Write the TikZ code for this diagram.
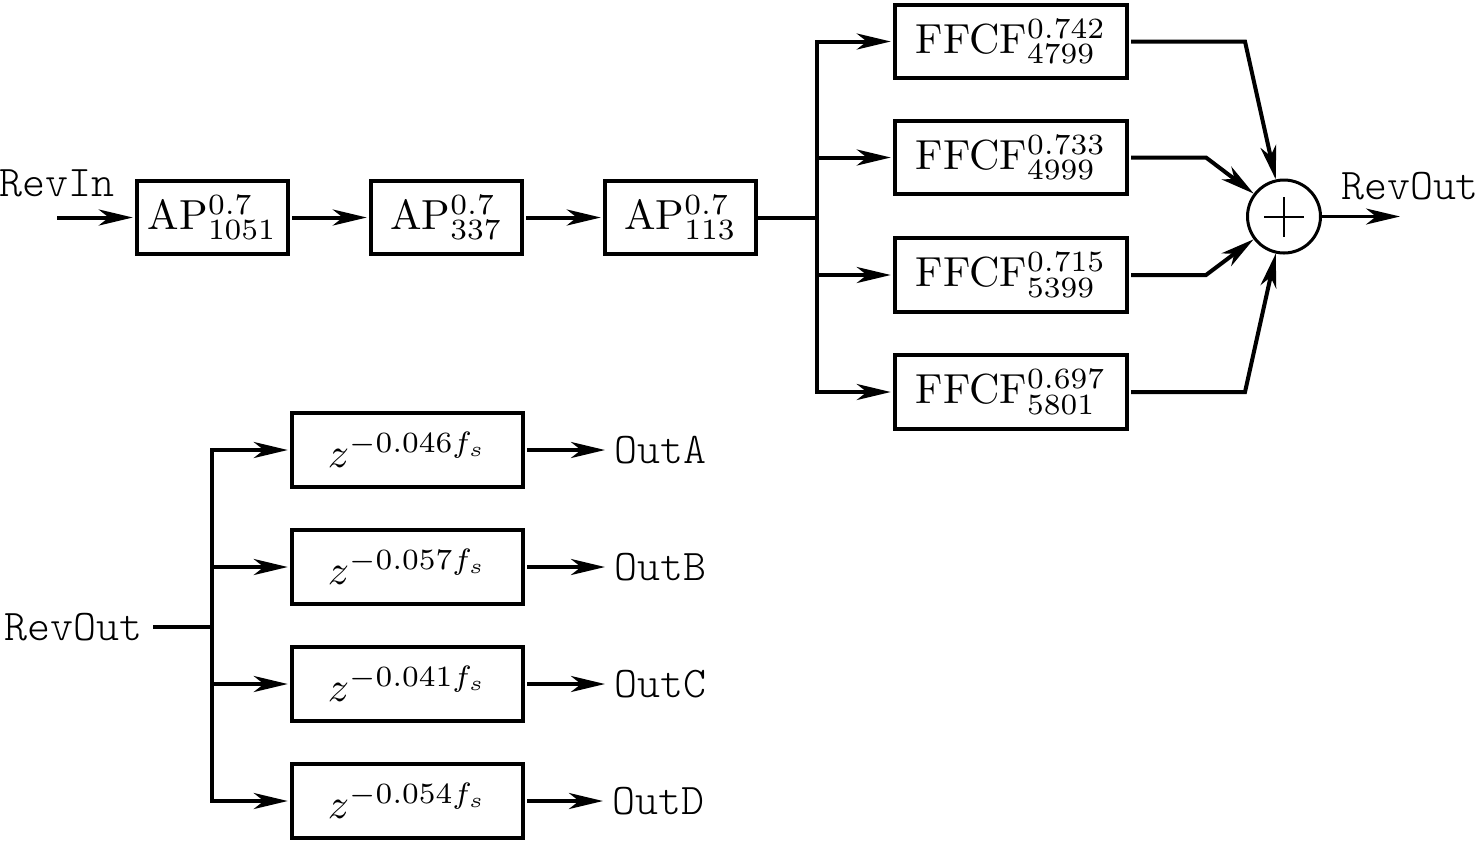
\documentclass[tikz,border=0pt]{standalone}
\usepackage{fontspec}
\newfontfamily\monof{lmmonolt10-regular}[Extension=.otf]
\usetikzlibrary{arrows.meta}
\begin{document}
\begin{tikzpicture}[x=0.5pt,y=-0.5pt,
  blk/.style={draw,line width=2pt,scale=2.1,inner sep=0pt,font=\normalsize,minimum height=17.4pt},
  apbox/.style={blk,minimum width=35.95pt},
  ffbox/.style={blk,minimum width=55.24pt},
  zbox/.style={blk,minimum width=55pt,minimum height=17.62pt},
  lbl/.style={font=\fontsize{21.9}{26}\selectfont\monof,inner sep=0pt},
  wire/.style={line width=2pt,line cap=rect},
  arr/.style={line width=2pt,-{Stealth[length=17pt,width=8pt,inset=5pt]}},
  thinarr/.style={line width=1.5pt,-{Stealth[length=17pt,width=8pt,inset=5pt]}},
  sumnode/.style={draw,circle,line width=1.5pt,minimum size=36.5pt,inner sep=0pt}
]
\useasboundingbox (0,0) rectangle (1480,843);

% top row
\node[apbox] (a1) at (212.5,217.5) {AP$^{0.7}_{1051}$};
\node[apbox] (a2) at (446.5,217.5) {AP$^{0.7}_{337}$};
\node[apbox] (a3) at (680.5,217.5) {AP$^{0.7}_{113}$};
\coordinate (in) at (57,217.5);
\node[lbl] (rin) at (57,183) {RevIn};
\draw[arr] (in) -- (a1);
\draw[arr] (a1) -- (a2);
\draw[arr] (a2) -- (a3);

\node[ffbox] (f1) at (1011,41.5) {FFCF$^{0.742}_{4799}$};
\node[ffbox] (f2) at (1011,157.5) {FFCF$^{0.733}_{4999}$};
\node[ffbox] (f3) at (1011,275) {FFCF$^{0.715}_{5399}$};
\node[ffbox] (f4) at (1011,392) {FFCF$^{0.697}_{5801}$};

\coordinate (bj) at (817,217.5);
\coordinate (bt) at (817,41.5);
\coordinate (bb) at (817,392);
\draw[wire] (a3) -- (bj);
\draw[wire] (bt) -- (bb);
\draw[arr] (bt) -- (f1);
\draw[arr] (bt |- f2) -- (f2);
\draw[arr] (bt |- f3) -- (f3);
\draw[arr] (bb) -- (f4);

\node[sumnode] (sum) at (1284,216.5) {};
\draw[line width=1pt] ([xshift=-10pt]sum.center) -- ([xshift=10pt]sum.center);
\draw[line width=1pt] ([yshift=-10pt]sum.center) -- ([yshift=10pt]sum.center);

\coordinate (k1) at (1245,41.5);
\coordinate (k2) at (1206,157.5);
\coordinate (k3) at (1206,275);
\coordinate (k4) at (1245,392);
\draw[arr] (f1.east) -- (k1) -- (sum);
\draw[arr] (f2.east) -- (k2) -- (sum);
\draw[arr] (f3.east) -- (k3) -- (sum);
\draw[arr] (f4.east) -- (k4) -- (sum);

\coordinate (out) at (1400,216.5);
\draw[thinarr] (sum) -- (out);
\node[lbl] (rout) at (1410,186) {RevOut};

% bottom
\node[zbox] (zA) at (407.5,450) {$z^{-0.046f_s}$};
\node[zbox] (zB) at (407.5,567) {$z^{-0.057f_s}$};
\node[zbox] (zC) at (407.5,684) {$z^{-0.041f_s}$};
\node[zbox] (zD) at (407.5,801) {$z^{-0.054f_s}$};

\node[lbl,anchor=east,inner sep=6pt] (ro2) at (155,627) {RevOut};
\coordinate (cj) at (212,627);
\coordinate (ct) at (212,450);
\coordinate (cb) at (212,801);
\draw[wire] (ro2.east) -- (cj);
\draw[wire] (ct) -- (cb);
\draw[arr] (ct) -- (zA);
\draw[arr] (ct |- zB) -- (zB);
\draw[arr] (ct |- zC) -- (zC);
\draw[arr] (cb) -- (zD);

\node[lbl,anchor=west,inner sep=4.5pt] (oA) at (605,450) {OutA};
\node[lbl,anchor=west,inner sep=4.5pt] (oB) at (605,567) {OutB};
\node[lbl,anchor=west,inner sep=4.5pt] (oC) at (605,684) {OutC};
\node[lbl,anchor=west,inner sep=4.5pt] (oD) at (603,801) {OutD};
\draw[arr] (zA) -- (oA);
\draw[arr] (zB) -- (oB);
\draw[arr] (zC) -- (oC);
\draw[arr] (zD) -- (oD);
\end{tikzpicture}
\end{document}
